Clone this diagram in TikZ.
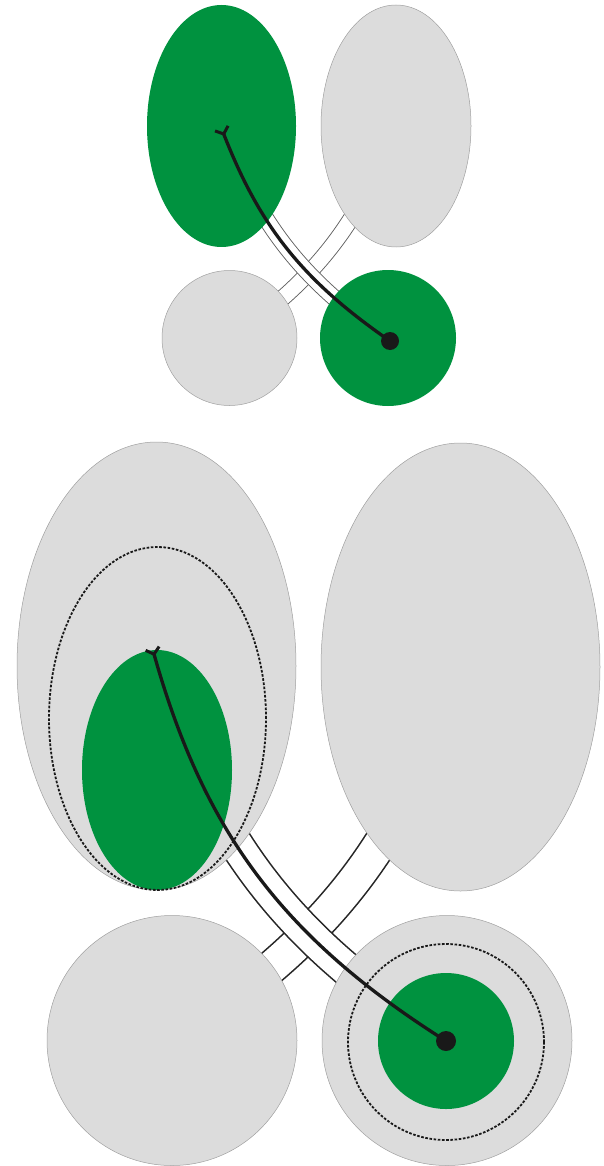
\documentclass[tikz,border=0pt]{standalone}
\usepackage{tikz}
\usetikzlibrary{shapes.geometric, arrows.meta}
\definecolor{leafgreen}{RGB}{0, 146, 63}
\definecolor{palegrey}{RGB}{220, 220, 220}
\definecolor{rimgrey}{RGB}{160, 160, 160}
\definecolor{bridgegrey}{RGB}{95, 95, 95}

\begin{document}
\begin{tikzpicture}[
    x=1pt, y=1pt,
    lobe/.style={
        ellipse, fill=palegrey, draw=rimgrey, line width=0.5pt, inner sep=0pt, outer sep=0pt
    },
    greenlobe/.style={
        ellipse, fill=leafgreen, inner sep=0pt, outer sep=0pt
    },
    limit/.style={
        ellipse, draw=black!90, line width=1.8pt, dash pattern=on 2.6pt off 1.6pt, inner sep=0pt
    },
    bridge/.style={
        draw=bridgegrey, line width=0.9pt, double=white, double distance=15pt
    },
    bigbridge/.style={
        draw=black!85, line width=1.6pt, double=white, double distance=32pt
    },
    route/.style={
        line width=3.3pt, draw=black!90,
        -{Straight Barb[reversed, length=6pt, width=14pt, line width=3pt]}
    },
    source/.style={
        circle, fill=black!90, inner sep=0pt
    }
]
\useasboundingbox (0,0) rectangle (604,-1166);

% Top pair: end points of the bridges
\coordinate (topsrc) at (390,-341);
\coordinate (toptip) at (221,-127);
\coordinate (topleftend) at (227,-341);
\coordinate (toprightend) at (396,-127);

% Bottom pair: end points of the bridges
\coordinate (botsrc) at (446,-1041);
\coordinate (bottip) at (152,-647);
\coordinate (botleftend) at (170,-1041);
\coordinate (botrightend) at (464,-647);

% Bridges (drawn first, the lobes hide their ends)
\draw[bridge] (topleftend) to[bend right=17] (toprightend);
\draw[bridge] (topsrc) to[bend left=17] (toptip);
\draw[bigbridge] (botleftend) to[bend right=21] (botrightend);
\draw[bigbridge] (botsrc) to[bend left=21] (bottip);

% Top pair: lobes
\node[greenlobe, minimum width=149pt, minimum height=242pt] (topleft) at (221.5,-126) {};
\node[lobe, minimum width=150pt, minimum height=242pt] (topright) at (396,-126) {};
\node[lobe, minimum width=135pt, minimum height=135pt] (topbl) at (229.5,-338) {};
\node[greenlobe, minimum width=136pt, minimum height=136pt] (topbr) at (388,-338) {};

% Bottom pair: lobes
\node[lobe, minimum width=279pt, minimum height=448pt] (botleft) at (156.5,-666) {};
\node[lobe, minimum width=279pt, minimum height=448pt] (botright) at (460.5,-667) {};
\node[lobe, minimum width=250pt, minimum height=250pt] (botbl) at (172,-1040.5) {};
\node[lobe, minimum width=250pt, minimum height=250pt] (botbr) at (447,-1040.5) {};

% Bottom pair: inner green parts and their dashed limits
\node[greenlobe, minimum width=150pt, minimum height=240pt] (botgreen) at (157,-770) {};
\node[limit, minimum width=217pt, minimum height=343pt] (botlimit) at (157.5,-718.5) {};
\node[greenlobe, minimum width=136pt, minimum height=136pt] (botcore) at (446,-1041) {};
\node[limit, minimum width=196pt, minimum height=196pt] (botring) at (446,-1042) {};

% Routes
\node[source, minimum size=18pt] (topdot) at (topsrc) {};
\draw[route] (topdot.center) to[bend left=17] (toptip);
\node[source, minimum size=20pt] (botdot) at (botsrc) {};
\draw[route] (botdot.center) to[bend left=21] (bottip);

\end{tikzpicture}
\end{document}
